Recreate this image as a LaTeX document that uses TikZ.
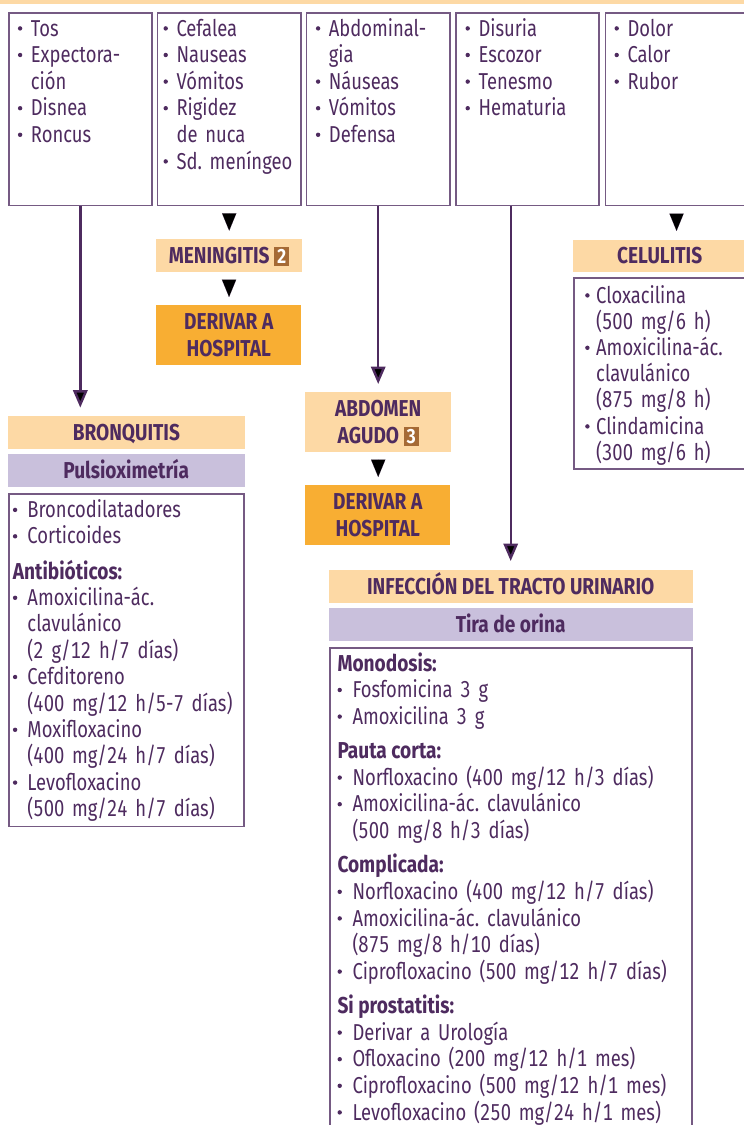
\documentclass[tikz,border=0pt]{standalone}
\usepackage{fontspec}
\setmainfont{Fira Sans}[FakeStretch=0.80, Numbers=Monospaced,
  UprightFeatures={WordSpace=1.6},
  BoldFeatures={FakeStretch=0.83}]
\usetikzlibrary{arrows.meta}

\definecolor{peach}{HTML}{FDD9A5}
\definecolor{lav}{HTML}{C9C0DC}
\definecolor{orng}{HTML}{F8AE33}
\definecolor{ink}{HTML}{4E2B5F}
\definecolor{frame}{HTML}{755A83}
\definecolor{badge}{HTML}{A56A35}

\lineskiplimit=-20pt
\normallineskiplimit=-20pt
\frenchspacing

% list helpers: bullet item, continuation line, bold sub-heading
\newlength\bw
\setlength\bw{13pt}
\newlength\hgap
\setlength\hgap{8pt}
\newcommand\dotmark{\tikz[baseline=0pt]\fill[ink] (2.2pt,7.6pt) circle[radius=2.2pt];}
\newcommand\bl[1]{\noindent\makebox[\bw][l]{\dotmark}#1\par}
\newcommand\cl[1]{\noindent\hspace*{\bw}#1\par}
\newcommand\hd[1]{\vspace{\hgap}\noindent\textbf{#1}\par}
\newcommand\bodyf[1]{\fontsize{23}{#1}\selectfont\frenchspacing}
\newcommand\badgebox[1]{\raisebox{0pt}[16.3pt][0pt]{\textcolor{badge}{\rule[-2.7pt]{15pt}{19pt}}\hspace{-15pt}\makebox[15pt]{\textcolor{white}{\fontsize{20}{20}\selectfont #1}}}}

\tikzset{
  txt/.style={inner sep=0pt, text=ink, anchor=base west, text width=420pt, align=flush left},
  frm/.style={draw=frame, line width=1.6pt, inner sep=0pt, anchor=north west},
  hdr/.style={fill=peach, text=ink, inner sep=0pt, anchor=north west, align=center,
              font=\bfseries\fontsize{23}{27}\selectfont},
  oneline/.style={text height=16pt, text depth=0pt},
  sub/.style={hdr, fill=lav},
  go/.style={hdr, fill=orng},
  link/.style={draw=ink, line width=2.4pt, -{Triangle[width=14.3pt,length=17.4pt]}},
  tiponly/.style={link, line width=0.01pt}
}

\begin{document}
\begin{tikzpicture}[x=1pt,y=-1pt]
\useasboundingbox (0,0) rectangle (744,1125);

% band along the top edge
\node[fill=peach, inner sep=0pt, anchor=north west, minimum width=744pt, minimum height=3.3pt] (band) at (0,0) {};

% symptom boxes
\node[frm, minimum width=143pt, minimum height=192.5pt] (s1) at (8,12) {};
\node[frm, minimum width=143.2pt, minimum height=192.5pt] (s2) at (156.8,12) {};
\node[frm, minimum width=143.2pt, minimum height=192.5pt] (s3) at (305.8,12) {};
\node[frm, minimum width=143pt, minimum height=192.5pt] (s4) at (455,12) {};
\node[frm, minimum width=142.5pt, minimum height=192.5pt] (s5) at (604.5,12) {};

\node[txt, font={\bodyf{26.6}}] (t1) at (17.7,36) {\bl{Tos}\bl{Expectora-}\cl{ción}\bl{Disnea}\bl{Roncus}};
\node[txt, font={\bodyf{26.6}}] (t2) at (163.3,36) {\bl{Cefalea}\bl{Nauseas}\bl{Vómitos}\bl{Rigidez}\cl{de nuca}\bl{Sd. meníngeo}};
\node[txt, font={\bodyf{26.6}}] (t3) at (315.7,36) {\bl{Abdominal-}\cl{gia}\bl{Náuseas}\bl{Vómitos}\bl{Defensa}};
\node[txt, font={\bodyf{26.6}}] (t4) at (465.3,36) {\bl{Disuria}\bl{Escozor}\bl{Tenesmo}\bl{Hematuria}};
\node[txt, font={\bodyf{26.6}}] (t5) at (614.3,36) {\bl{Dolor}\bl{Calor}\bl{Rubor}};

% meningitis branch
\node[hdr, oneline, minimum width=145.7pt, minimum height=32.7pt] (men) at (156,239) {MENINGITIS \badgebox{2}};
\node[go, minimum width=145pt, minimum height=59.7pt] (der1) at (156,305) {DERIVAR A\\HOSPITAL};

% bronchitis branch
\node[hdr, oneline, minimum width=237.7pt, minimum height=32.7pt] (bro) at (7.3,416) {BRONQUITIS};
\node[sub, oneline, minimum width=237.4pt, minimum height=33.4pt] (pul) at (7.3,453.3) {Pulsioximetría};
\node[frm, minimum width=235pt, minimum height=332.6pt] (brobox) at (8.2,493.2) {};
\node[txt, font={\bodyf{26.4}}] (brotx) at (12.7,517.5) {\setlength\bw{14.6pt}\setlength\hgap{8.7pt}%
  \bl{Broncodilatadores}\bl{Corticoides}\hd{Antibióticos:}%
  \bl{Amoxicilina-ác.}\cl{clavulánico}\cl{(2 g/12 h/7 días)}%
  \bl{Cefditoreno}\cl{(400 mg/12 h/5-7 días)}%
  \bl{Moxifloxacino}\cl{(400 mg/24 h/7 días)}%
  \bl{Levofloxacino}\cl{(500 mg/24 h/7 días)}};

% acute abdomen branch
\node[hdr, minimum width=146pt, minimum height=60pt] (abd) at (305,391.7) {ABDOMEN\\AGUDO \badgebox{3}};
\node[go, minimum width=145pt, minimum height=60pt] (der2) at (305,485) {DERIVAR A\\HOSPITAL};

% cellulitis branch
\node[hdr, oneline, minimum width=174.4pt, minimum height=32.2pt] (cel) at (572.3,239.5) {CELULITIS};
\node[frm, minimum width=174pt, minimum height=191.4pt] (celbox) at (573.2,277) {};
\node[txt, font={\bodyf{26.2}}] (celtx) at (585,303) {\setlength\bw{11pt}%
  \bl{Cloxacilina}\cl{(500 mg/6 h)}%
  \bl{Amoxicilina-ác.}\cl{clavulánico}\cl{(875 mg/8 h)}%
  \bl{Clindamicina}\cl{(300 mg/6 h)}};

% urinary tract branch
\node[hdr, oneline, minimum width=364.4pt, minimum height=32.7pt] (itu) at (328.3,570) {INFECCIÓN DEL TRACTO URINARIO};
\node[sub, oneline, minimum width=364.4pt, minimum height=33.4pt] (tira) at (328.3,607.3) {Tira de orina};
\node[frm, minimum width=362.2pt, minimum height=500pt] (itubox) at (329.2,646.9) {};
\node[txt, font={\bodyf{26.6}}] (itutx) at (337.3,671) {\setlength\bw{15pt}\setlength\hgap{7.8pt}%
  \noindent\textbf{Monodosis:}\par
  \bl{Fosfomicina 3 g}\bl{Amoxicilina 3 g}%
  \hd{Pauta corta:}%
  \bl{Norfloxacino (400 mg/12 h/3 días)}\bl{Amoxicilina-ác. clavulánico}\cl{(500 mg/8 h/3 días)}%
  \hd{Complicada:}%
  \bl{Norfloxacino (400 mg/12 h/7 días)}\bl{Amoxicilina-ác. clavulánico}\cl{(875 mg/8 h/10 días)}%
  \bl{Ciprofloxacino (500 mg/12 h/7 días)}%
  \hd{Si prostatitis:}%
  \bl{Derivar a Urología}\bl{Ofloxacino (200 mg/12 h/1 mes)}%
  \bl{Ciprofloxacino (500 mg/12 h/1 mes)}\bl{Levofloxacino (250 mg/24 h/1 mes)}};

% connectors
\draw[link, shorten >=8.4pt] (s1.south) -- (s1.south |- bro.north);
\draw[tiponly, shorten <=8.8pt, shorten >=8.3pt] (s2.south) -- (s2.south |- men.north);
\draw[tiponly, shorten <=8pt, shorten >=8pt] (men.south) -- (men.south |- der1.north);
\draw[link, shorten >=7.7pt] (s3.south) -- (s3.south |- abd.north);
\draw[tiponly, shorten <=7.3pt, shorten >=8pt] (abd.south) -- (abd.south |- der2.north);
\draw[link, shorten >=9pt] (itu.north |- s4.south) -- (itu.north);
\draw[tiponly, shorten <=8.8pt, shorten >=8.6pt] (s5.south) -- (s5.south |- cel.north);
\end{tikzpicture}
\end{document}
